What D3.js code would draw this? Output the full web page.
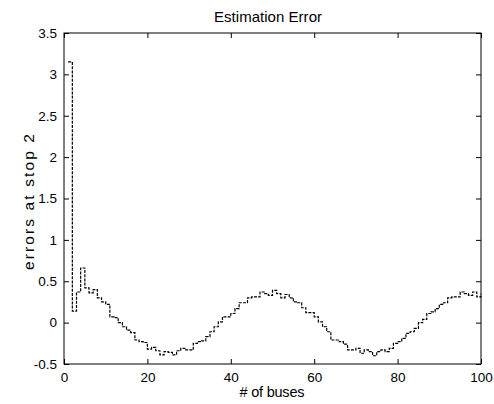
<!DOCTYPE html>
<html><head><meta charset="utf-8">
<script src="https://cdn.jsdelivr.net/npm/d3@7"></script>
<style>body{margin:0;background:#fff}svg{display:block}text{font-family:"Liberation Sans",Arial,sans-serif;fill:#000}</style>
</head><body>
<script>
const title = "Estimation Error";
const xLabel = "# of buses";
const yLabel = "errors at stop 2";
const xTicks = [0,20,40,60,80,100];
const yTicks = [-0.5,0,0.5,1,1.5,2,2.5,3,3.5];
const buses = d3.range(1,101);
const errors = [3.15,0.14,0.37,0.66,0.42,0.36,0.40,0.30,0.25,0.22,
0.07,0.06,0.00,-0.05,-0.09,-0.12,-0.21,-0.23,-0.24,-0.32,
-0.30,-0.34,-0.39,-0.35,-0.36,-0.39,-0.34,-0.31,-0.33,-0.33,
-0.25,-0.23,-0.22,-0.17,-0.11,-0.05,0.01,0.07,0.07,0.11,
0.17,0.24,0.24,0.30,0.31,0.31,0.37,0.35,0.33,0.39,
0.35,0.30,0.34,0.30,0.25,0.24,0.18,0.12,0.12,0.07,
0.01,-0.05,-0.11,-0.21,-0.21,-0.23,-0.26,-0.33,-0.33,-0.31,
-0.37,-0.33,-0.35,-0.40,-0.35,-0.33,-0.35,-0.31,-0.25,-0.23,
-0.19,-0.13,-0.11,-0.07,0.00,0.04,0.11,0.13,0.17,0.22,
0.24,0.30,0.31,0.31,0.37,0.35,0.33,0.37,0.31,0.35];

const W=494,H=404, m={l:64,r:13,t:33,b:40};
const svg=d3.select("body").append("svg").attr("width",W).attr("height",H);
const x=d3.scaleLinear().domain([0,100]).range([m.l,W-m.r]);
const y=d3.scaleLinear().domain([-0.5,3.5]).range([H-m.b,m.t]);
const tl=5;
const g=svg.append("g");
const ax=(sel)=>sel.call(s=>s.select(".domain").remove());
g.append("g").attr("transform",`translate(0,${y(-0.5)})`)
 .call(d3.axisBottom(x).tickValues(xTicks).tickSizeInner(-tl).tickSizeOuter(0).tickPadding(8).tickFormat(d3.format("d")))
 .call(ax).call(s=>s.selectAll("text").attr("font-size",13.5).attr("font-family","Liberation Sans, Arial"));
g.append("g").attr("transform",`translate(0,${y(3.5)})`)
 .call(d3.axisTop(x).tickValues(xTicks).tickSizeInner(-tl).tickSizeOuter(0).tickFormat(""))
 .call(ax);
g.append("g").attr("transform",`translate(${x(0)},0)`)
 .call(d3.axisLeft(y).tickValues(yTicks).tickSizeInner(-tl).tickSizeOuter(0).tickPadding(7).tickFormat(d=>String(d)))
 .call(ax).call(s=>s.selectAll("text").attr("font-size",13.5).attr("font-family","Liberation Sans, Arial"));
g.append("g").attr("transform",`translate(${x(100)},0)`)
 .call(d3.axisRight(y).tickValues(yTicks).tickSizeInner(-tl).tickSizeOuter(0).tickFormat(""))
 .call(ax);
g.selectAll(".tick line").attr("stroke","#000");
svg.append("rect").attr("x",x(0)).attr("y",y(3.5)).attr("width",x(100)-x(0)).attr("height",y(-0.5)-y(3.5))
 .attr("fill","none").attr("stroke","#000").attr("stroke-width",1);
const line=d3.line().x(d=>x(d[0])).y(d=>y(d[1])).curve(d3.curveStepAfter);
svg.append("path").datum(buses.map((b,i)=>[b,errors[i]]))
 .attr("d",line).attr("fill","none").attr("stroke","#000").attr("stroke-width",1.2).attr("stroke-dasharray","3,1.2");
svg.append("text").attr("x",268).attr("y",22).attr("text-anchor","middle").attr("font-size",15)
 .attr("textLength",108).attr("lengthAdjust","spacing").text(title);
svg.append("text").attr("x",272).attr("y",397).attr("text-anchor","middle").attr("font-size",14.5)
 .attr("textLength",65).attr("lengthAdjust","spacing").text(xLabel);
svg.append("text").attr("transform",`translate(34,202) rotate(-90)`).attr("text-anchor","middle").attr("font-size",15.5)
 .attr("textLength",136).attr("lengthAdjust","spacing").text(yLabel);
</script>
</body></html>
